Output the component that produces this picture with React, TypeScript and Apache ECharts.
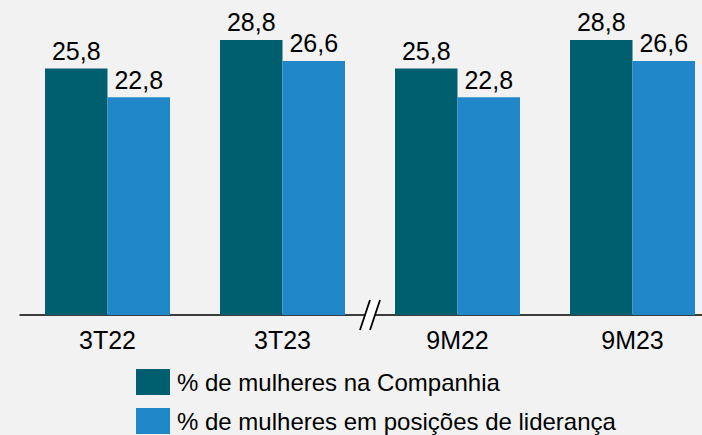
import React, { useEffect, useRef } from "react";
import * as echarts from "echarts";

const categories = ["3T22", "3T23", "9M22", "9M23"];
const companhia = [25.8, 28.8, 25.8, 28.8];
const lideranca = [22.8, 26.6, 22.8, 26.6];
const seriesNames = ["% de mulheres na Companhia", "% de mulheres em posições de liderança"];

const fmt = (p: any) => String(p.value).replace(".", ",");

export default function App() {
  const ref = useRef<HTMLDivElement>(null);
  useEffect(() => {
    const chart = echarts.init(ref.current!, null, { renderer: "svg" });
    const font = "'Liberation Sans', Arial, sans-serif";
    chart.setOption({
      animation: false,
      backgroundColor: "#f2f2f2",
      textStyle: { fontFamily: font },
      grid: { left: 20, width: 700, top: 9.4, bottom: 120, containLabel: false, outerBoundsMode: "none" },
      legend: {
        orient: "vertical",
        left: 136,
        top: 369,
        padding: 0,
        itemWidth: 34,
        itemHeight: 26,
        itemGap: 13,
        icon: "rect",
        textStyle: { fontSize: 24, color: "#000", fontFamily: font, padding: [0, 0, 0, 2] },
        data: seriesNames,
      },
      xAxis: {
        type: "category",
        data: categories,
        axisLine: { lineStyle: { color: "#000", width: 1.5 } },
        axisTick: { show: false },
        axisLabel: { fontSize: 25, color: "#000", margin: 12, fontFamily: font },
      },
      yAxis: {
        type: "value",
        min: 0,
        max: 32,
        show: false,
      },
      series: [
        {
          name: seriesNames[0],
          type: "bar",
          data: companhia,
          barWidth: 62.5,
          barGap: "0%",
          itemStyle: { color: "#005f6e" },
          label: { show: true, position: "top", distance: 5, fontSize: 25, color: "#000", formatter: fmt, fontFamily: font },
        },
        {
          name: seriesNames[1],
          type: "bar",
          data: lideranca,
          barWidth: 62.5,
          barGap: "0%",
          itemStyle: { color: "#2088c8" },
          label: { show: true, position: "top", distance: 5, fontSize: 25, color: "#000", formatter: fmt, fontFamily: font },
        },
      ],
      graphic: [
        {
          type: "polygon",
          shape: { points: [[360, 330], [370, 300], [380, 300], [370, 330]] },
          style: { fill: "#ffffff" },
          z: 100,
        },
        {
          type: "line",
          shape: { x1: 360, y1: 330, x2: 370, y2: 300 },
          style: { stroke: "#000", lineWidth: 1.8 },
          z: 101,
        },
        {
          type: "line",
          shape: { x1: 370, y1: 330, x2: 380, y2: 300 },
          style: { stroke: "#000", lineWidth: 1.8 },
          z: 101,
        },
      ],
    });
    return () => chart.dispose();
  }, []);
  return <div ref={ref} style={{ width: 702, height: 435, position: "absolute", left: 0, top: 0 }} />;
}
